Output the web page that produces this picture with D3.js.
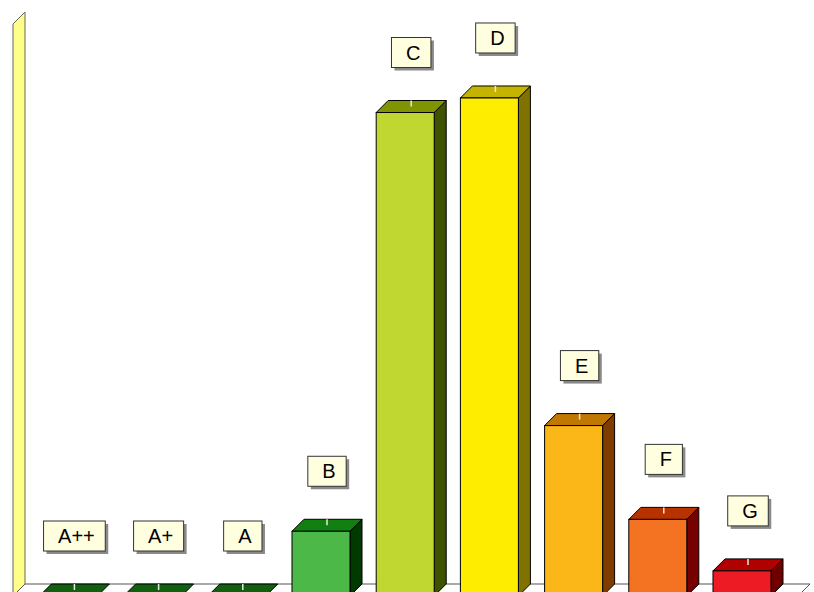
<!DOCTYPE html>
<html>
<head>
<meta charset="utf-8">
<script src="https://cdn.jsdelivr.net/npm/d3@7"></script>
<style>
  body { margin: 0; background: #fff; }
  svg { display: block; }
</style>
</head>
<body>
<div id="graf"></div>
<script>
// energy rating bands and share of each
const ratings = ["A++", "A+", "A", "B", "C", "D", "E", "F", "G"];
const shares = [0, 0, 0, 4.9, 36.6, 37.7, 12.9, 5.8, 1.9];
const yMax = 43.3;

const frontColors = ["#1f7a1f", "#1f7a1f", "#1f7a1f", "#4cb848", "#c0d732", "#ffed00", "#fbb617", "#f47323", "#ed1c24"];
const topColors = ["#106010", "#106010", "#106010", "#118011", "#7f9400", "#c4b400", "#c07800", "#b83200", "#b00000"];
const sideColors = ["#003a00", "#003a00", "#003a00", "#003a00", "#3f5200", "#7f7200", "#7f3c00", "#770000", "#6f0000"];

const ancho_total = 814;
const alto_total = 592;
const depth = 12;

const data = ratings.map((r, i) => ({
  rating: r,
  value: shares[i],
  front: frontColors[i],
  top: topColors[i],
  side: sideColors[i],
}));

const svg = d3
  .select("#graf")
  .append("svg")
  .attr("width", ancho_total)
  .attr("height", alto_total);

const x = d3.scaleBand().domain(ratings).range([39.4, 771]).paddingInner(0.311).paddingOuter(0);
const y = d3.scaleLinear().domain([0, yMax]).range([596, 24]);

const base = y(0);
const wallX = 13;
const floorEnd = 798;

// back wall (left side)
svg
  .append("path")
  .attr("d", `M${wallX},${y(yMax)} L${wallX + depth},${y(yMax) - depth} L${wallX + depth},${base - depth} L${wallX},${base} Z`)
  .attr("fill", "#ffff88")
  .attr("stroke", "#666")
  .attr("stroke-width", 1);

// floor
svg
  .append("path")
  .attr("d", `M${wallX},${base} L${wallX + depth},${base - depth} L${floorEnd + depth},${base - depth} L${floorEnd},${base} Z`)
  .attr("fill", "#fff")
  .attr("stroke", "#555")
  .attr("stroke-width", 1);

const bw = x.bandwidth();

const bars = svg
  .selectAll(".bar")
  .data(data)
  .enter()
  .append("g")
  .attr("class", "bar");

// side face
bars
  .filter((d) => d.value > 0)
  .append("path")
  .attr("d", (d) => {
    const x1 = x(d.rating) + bw;
    const yt = y(d.value);
    return `M${x1},${yt} L${x1 + depth},${yt - depth} L${x1 + depth},${base - depth} L${x1},${base} Z`;
  })
  .attr("fill", (d) => d.side)
  .attr("stroke", "#000")
  .attr("stroke-width", 1);

// top face
bars
  .append("path")
  .attr("d", (d) => {
    const x0 = x(d.rating);
    const yt = y(d.value);
    return `M${x0},${yt} L${x0 + depth},${yt - depth} L${x0 + bw + depth},${yt - depth} L${x0 + bw},${yt} Z`;
  })
  .attr("fill", (d) => d.top)
  .attr("stroke", "#000")
  .attr("stroke-width", 1);

// front face
bars
  .filter((d) => d.value > 0)
  .append("rect")
  .attr("x", (d) => x(d.rating))
  .attr("y", (d) => y(d.value))
  .attr("width", bw)
  .attr("height", (d) => base - y(d.value))
  .attr("fill", (d) => d.front)
  .attr("stroke", "#000")
  .attr("stroke-width", 1);

// little marker on the top face
bars
  .append("line")
  .attr("x1", (d) => x(d.rating) + bw / 2 + depth / 2)
  .attr("x2", (d) => x(d.rating) + bw / 2 + depth / 2)
  .attr("y1", (d) => y(d.value) - depth)
  .attr("y2", (d) => y(d.value) - depth / 2)
  .attr("stroke", "#e8e8e8")
  .attr("stroke-width", 1.5);

// labels
const labels = svg
  .selectAll(".etiqueta")
  .data(data)
  .enter()
  .append("g")
  .attr("class", "etiqueta")
  .attr("transform", (d) => `translate(${x(d.rating) + bw / 2 + depth / 2}, ${y(d.value) - depth - 33})`);

labels.each(function (d) {
  const g = d3.select(this);
  const t = g
    .append("text")
    .attr("x", 2)
    .attr("y", -8)
    .attr("text-anchor", "middle")
    .style("font-family", "'Liberation Sans', Arial, sans-serif")
    .style("font-size", "20px")
    .attr("fill", "#000")
    .text(d.rating);
  const w = t.node().getComputedTextLength() + 25;
  g.insert("rect", "text")
    .attr("x", -w / 2 + 3)
    .attr("y", -30 + 3)
    .attr("width", w)
    .attr("height", 30)
    .attr("fill", "#8a8a8a");
  g.insert("rect", "text")
    .attr("x", -w / 2)
    .attr("y", -30)
    .attr("width", w)
    .attr("height", 30)
    .attr("fill", "#ffffe0")
    .attr("stroke", "#333")
    .attr("stroke-width", 1);
});
</script>
</body>
</html>
